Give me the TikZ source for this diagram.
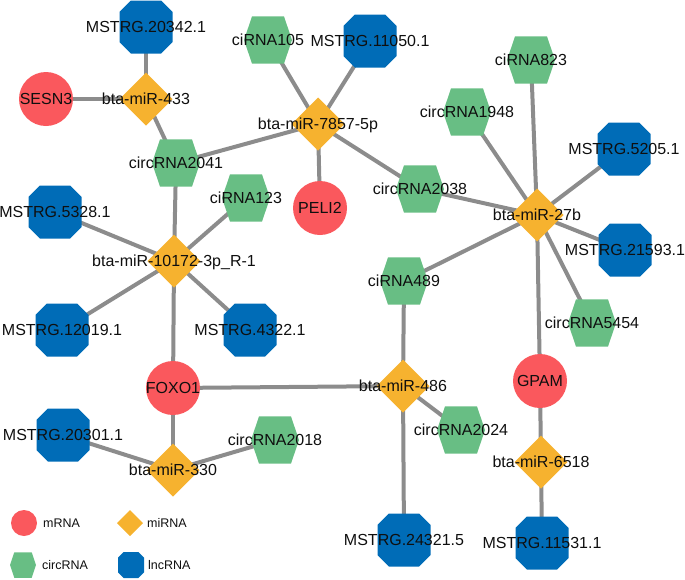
\documentclass[tikz,border=0pt]{standalone}
\usepackage{fontspec}
\setmainfont{Liberation Sans}
\pgfdeclarelayer{edges}
\pgfdeclarelayer{shapes}
\pgfsetlayers{edges,shapes,main}
\definecolor{mcol}{RGB}{250,88,93}
\definecolor{micol}{RGB}{246,178,47}
\definecolor{circcol}{RGB}{104,190,132}
\definecolor{lnccol}{RGB}{0,108,183}
\definecolor{edgecol}{RGB}{140,140,140}
\definecolor{txtcol}{RGB}{15,15,15}
\newcommand\shOct[2]{\fill[lnccol] (#1) +(-#2,-0.57*#2) -- +(-#2,0.57*#2) -- +(-0.57*#2,#2) -- +(0.57*#2,#2) -- +(#2,0.57*#2) -- +(#2,-0.57*#2) -- +(0.57*#2,-#2) -- +(-0.57*#2,-#2) -- cycle;}
\newcommand\shHex[2]{\fill[circcol] (#1) +(-#2,0) -- +(-0.667*#2,0.98*#2) -- +(0.667*#2,0.98*#2) -- +(#2,0) -- +(0.667*#2,-0.98*#2) -- +(-0.667*#2,-0.98*#2) -- cycle;}
\newcommand\shDia[2]{\fill[micol] (#1) +(-#2,0) -- +(0,#2) -- +(#2,0) -- +(0,-#2) -- cycle;}
\newcommand\shCirc[2]{\fill[mcol] (#1) circle (#2);}
\begin{document}
\begin{tikzpicture}[x=1pt,y=-1pt,
  lbl/.style={font=\fontsize{16}{19}\selectfont, inner sep=0pt, text=txtcol, text height=13pt, text depth=1.5pt},
  leg/.style={font=\fontsize{12.5}{15}\selectfont, inner sep=0pt, anchor=west, text=txtcol, text height=10pt, text depth=1pt},
  edge/.style={draw=edgecol, line width=4pt}]
\useasboundingbox (0,0) rectangle (685,579);
% labelled nodes
\node[lbl] (m20342) at (146,27) {MSTRG.20342.1};
\node[lbl] (sesn) at (46,99) {SESN3};
\node[lbl] (mi433) at (146,99) {bta-miR-433};
\node[lbl] (c2041) at (176,163) {circRNA2041};
\node[lbl] (c105) at (268,40) {ciRNA105};
\node[lbl] (m11050) at (370,41) {MSTRG.11050.1};
\node[lbl] (mi7857) at (318,124) {bta-miR-7857-5p};
\node[lbl] (peli) at (320,208) {PELI2};
\node[lbl] (c2038) at (420,189) {circRNA2038};
\node[lbl] (c823) at (531,60) {ciRNA823};
\node[lbl] (c1948) at (467,112) {circRNA1948};
\node[lbl] (m5205) at (624,149) {MSTRG.5205.1};
\node[lbl] (mi27b) at (537,215) {bta-miR-27b};
\node[lbl] (m21593) at (625,250) {MSTRG.21593.1};
\node[lbl] (c5454) at (592,323) {circRNA5454};
\node[lbl] (c489) at (404,281) {ciRNA489};
\node[lbl] (c123) at (246,198) {ciRNA123};
\node[lbl] (m5328) at (55,212) {MSTRG.5328.1};
\node[lbl] (mi10172) at (174,261) {bta-miR-10172-3p\_R-1};
\node[lbl] (m12019) at (62,330) {MSTRG.12019.1};
\node[lbl] (m4322) at (250,330) {MSTRG.4322.1};
\node[lbl] (foxo) at (173,388) {FOXO1};
\node[lbl] (mi486) at (403,386) {bta-miR-486};
\node[lbl] (gpam) at (540,381) {GPAM};
\node[lbl] (c2024) at (461,430) {circRNA2024};
\node[lbl] (mi6518) at (541,462) {bta-miR-6518};
\node[lbl] (m20301) at (63,435) {MSTRG.20301.1};
\node[lbl] (mi330) at (173,470) {bta-miR-330};
\node[lbl] (c2018) at (275,440) {circRNA2018};
\node[lbl] (m24321) at (404,540) {MSTRG.24321.5};
\node[lbl] (m11531) at (542,543) {MSTRG.11531.1};
% legend
\coordinate (lgm) at (24,523);
\coordinate (lgmi) at (130,523);
\coordinate (lgc) at (23,565);
\coordinate (lgl) at (131,565);
\node[leg] (lgmt) at (43,523) {mRNA};
\node[leg] (lgmit) at (147,523) {miRNA};
\node[leg] (lgct) at (42,565) {circRNA};
\node[leg] (lglt) at (148,565) {lncRNA};
% shapes
\begin{pgfonlayer}{shapes}
\foreach \n in {m20342,m11050,m5205,m21593,m5328,m12019,m4322,m20301,m24321,m11531} {\shOct{\n.center}{26.5}}
\foreach \n in {c2041,c105,c2038,c823,c1948,c5454,c489,c123,c2024,c2018} {\shHex{\n.center}{24}}
\foreach \n in {mi433,mi7857,mi27b,mi10172,mi486,mi6518,mi330} {\shDia{\n.center}{26.5}}
\foreach \n in {sesn,peli,foxo,gpam} {\shCirc{\n.center}{27}}
\shCirc{lgm}{13}
\shDia{lgmi}{13}
\shHex{lgc}{13}
\shOct{lgl}{13}
\end{pgfonlayer}
% edges
\begin{pgfonlayer}{edges}
\draw[edge] (mi433.center) -- (m20342.center);
\draw[edge] (mi433.center) -- (sesn.center);
\draw[edge] (mi433.center) -- (c2041.center);
\draw[edge] (c2041.center) -- (mi7857.center);
\draw[edge] (c2041.center) -- (mi10172.center);
\draw[edge] (mi7857.center) -- (c105.center);
\draw[edge] (mi7857.center) -- (m11050.center);
\draw[edge] (mi7857.center) -- (peli.center);
\draw[edge] (mi7857.center) -- (c2038.center);
\draw[edge] (c2038.center) -- (mi27b.center);
\draw[edge] (mi27b.center) -- (c823.center);
\draw[edge] (mi27b.center) -- (c1948.center);
\draw[edge] (mi27b.center) -- (m5205.center);
\draw[edge] (mi27b.center) -- (m21593.center);
\draw[edge] (mi27b.center) -- (c5454.center);
\draw[edge] (mi27b.center) -- (gpam.center);
\draw[edge] (mi27b.center) -- (c489.center);
\draw[edge] (mi10172.center) -- (c123.center);
\draw[edge] (mi10172.center) -- (m5328.center);
\draw[edge] (mi10172.center) -- (m12019.center);
\draw[edge] (mi10172.center) -- (m4322.center);
\draw[edge] (mi10172.center) -- (foxo.center);
\draw[edge] (foxo.center) -- (mi486.center);
\draw[edge] (foxo.center) -- (mi330.center);
\draw[edge] (mi330.center) -- (m20301.center);
\draw[edge] (mi330.center) -- (c2018.center);
\draw[edge] (mi486.center) -- (c489.center);
\draw[edge] (mi486.center) -- (c2024.center);
\draw[edge] (mi486.center) -- (m24321.center);
\draw[edge] (gpam.center) -- (mi6518.center);
\draw[edge] (mi6518.center) -- (m11531.center);
\end{pgfonlayer}
\end{tikzpicture}
\end{document}
